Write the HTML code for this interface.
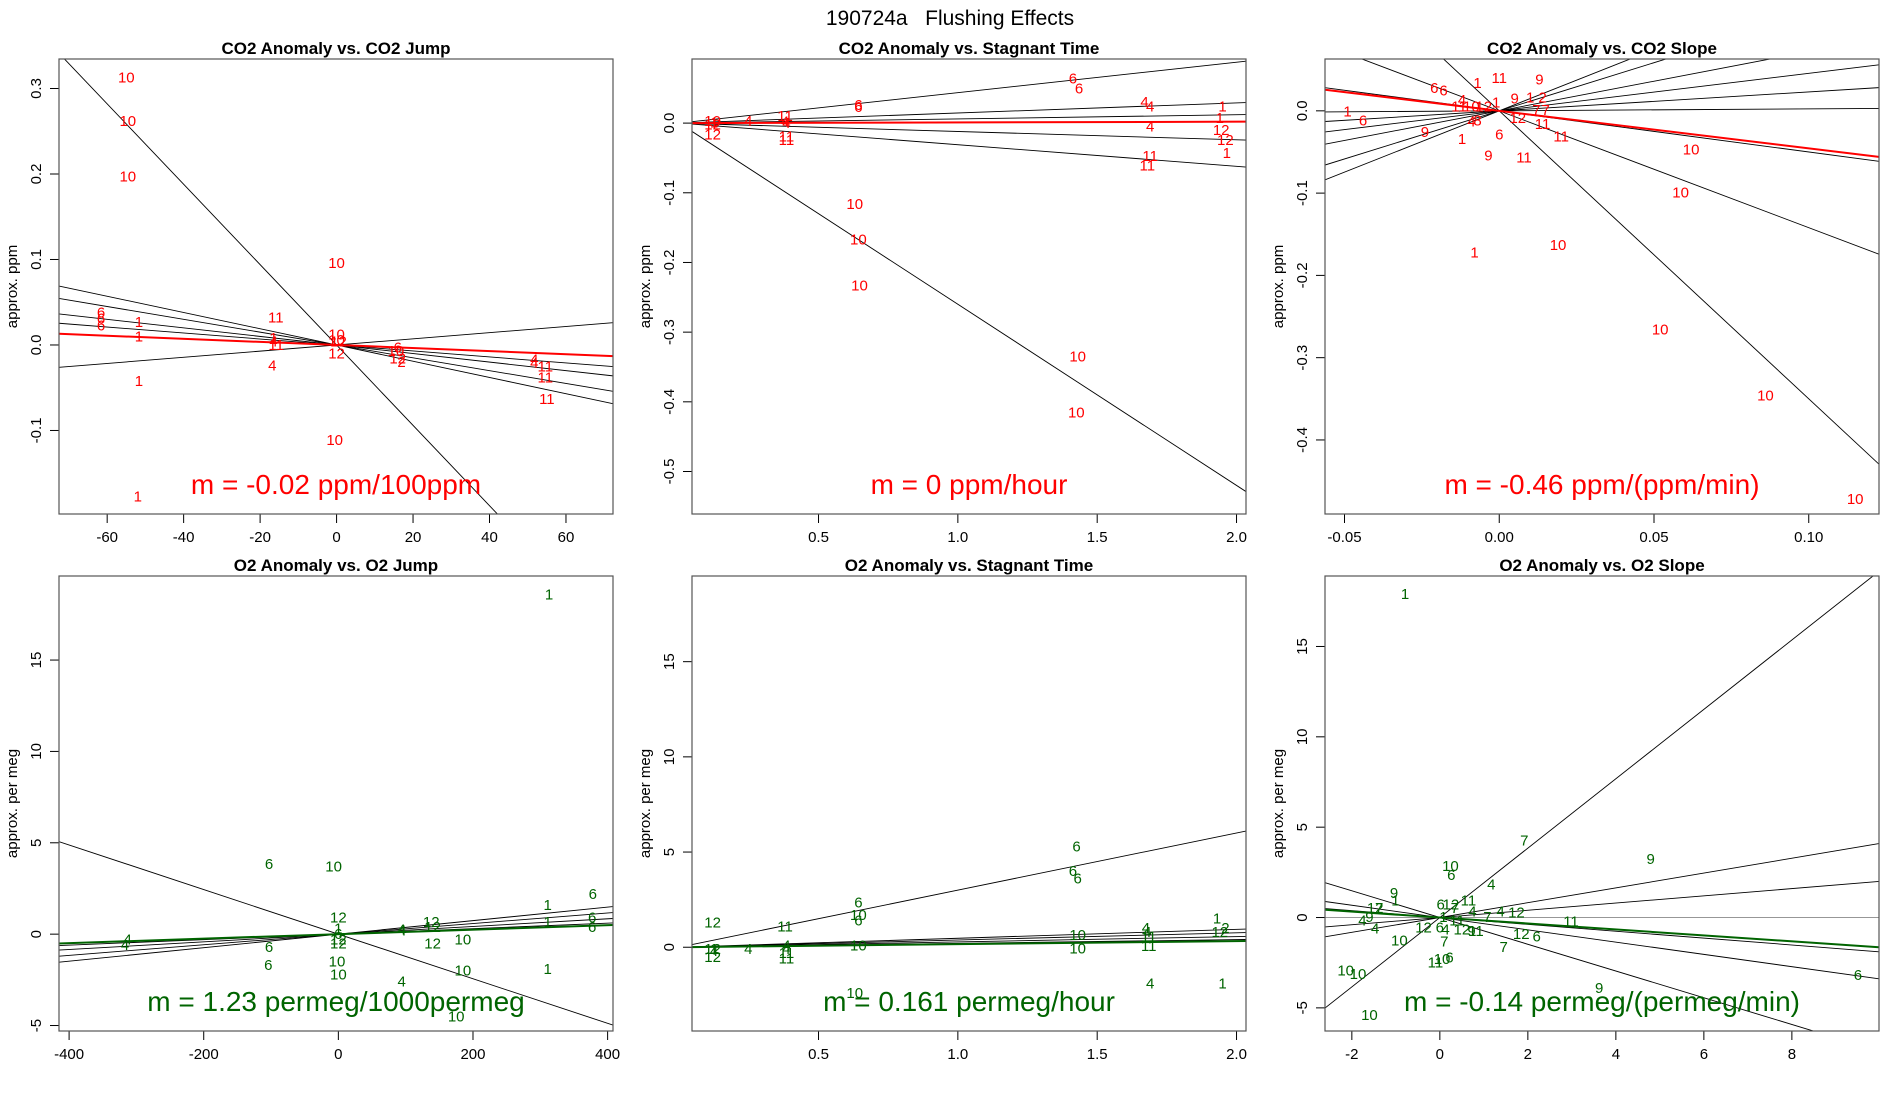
<!DOCTYPE html>
<html><head><meta charset="utf-8"><style>
html,body{margin:0;padding:0;background:#fff;}
svg{display:block;font-family:"Liberation Sans",sans-serif;}
</style></head><body>
<svg id="fig" width="1900" height="1100" viewBox="0 0 1900 1100" xmlns="http://www.w3.org/2000/svg">
<rect width="1900" height="1100" fill="#fff"/>
<text x="950" y="25" text-anchor="middle" font-size="21">190724a&#160;&#160;&#160;Flushing Effects</text>
</svg>
<script>
// ---- Panel 1: CO2 Anomaly vs CO2 Jump
const p1Labels=["10","10","10","10","6","6","6","1","1","11","1","4","11","4","1","10","10","12","12","10","1","6","10","12","2","4","4","11","11","11"];
const p1X=[-55,-54.6,-54.6,0,-61.6,-61.6,-61.6,-51.7,-51.7,-15.9,-16.5,-16.5,-15.8,-16.8,-51.7,0,0,0.5,0,-0.5,-52,16,15.5,16,17,51.7,51.7,54.6,54.6,55];
const p1Y=[0.313,0.262,0.197,0.096,0.038,0.031,0.023,0.027,0.010,0.032,0.008,0.004,0.0,-0.024,-0.042,0.012,0.006,0.004,-0.010,-0.111,-0.177,-0.003,-0.007,-0.016,-0.02,-0.017,-0.021,-0.025,-0.038,-0.063];
const p1Slopes=[-0.0047,-0.00095,-0.00075,-0.0005,-0.00035,0.00036];
const p1Fit=-0.00018;
// ---- Panel 2: CO2 Anomaly vs Stagnant Time
const p2Labels=["10","12","12","1","4","11","4","4","11","11","6","6","10","10","10","6","6","4","4","4","11","11","10","10","1","1","12","12","1"];
const p2X=[0.12,0.12,0.12,0.125,0.248,0.38,0.38,0.385,0.385,0.385,0.643,0.643,0.63,0.643,0.647,1.413,1.435,1.67,1.69,1.69,1.69,1.68,1.43,1.425,1.95,1.94,1.945,1.96,1.965];
const p2Y=[0.003,-0.002,-0.016,0.001,0.003,0.010,0.002,0.0,-0.019,-0.024,0.026,0.023,-0.116,-0.167,-0.233,0.064,0.050,0.030,0.024,-0.005,-0.047,-0.061,-0.335,-0.415,0.024,0.007,-0.010,-0.024,-0.043];
const p2Slopes=[0.0437,0.0145,0.006,-0.012,-0.031,-0.26];
const p2Fit=0.001;
// ---- Panel 3: CO2 Anomaly vs CO2 Slope
const p3Labels=["1","6","6","6","9","1","11","4","1","4","8","11","10","12","1","9","6","9","1","2","9","12","7","7","11","11","11","10","10","10","1","10","10","10"];
const p3X=[-0.049,-0.044,-0.021,-0.018,-0.024,-0.007,0.0,-0.012,-0.012,-0.009,-0.007,-0.013,-0.009,-0.005,-0.001,-0.0035,0.0,0.005,0.010,0.014,0.013,0.006,0.012,0.015,0.008,0.014,0.020,0.062,0.0586,0.019,-0.008,0.052,0.086,0.115];
const p3Y=[-0.001,-0.012,0.028,0.025,-0.026,0.034,0.040,0.013,-0.034,-0.013,-0.012,0.005,0.005,0.005,0.010,-0.054,-0.029,0.015,0.016,0.016,0.038,-0.009,0.001,0.001,-0.057,-0.016,-0.031,-0.047,-0.099,-0.163,-0.172,-0.266,-0.346,-0.472];
const p3Slopes=[1.49,1.17,0.72,0.456,0.23,0.024,-0.5,-1.42,-3.5];
const p3Fit=-0.456;
// ---- Panel 4: O2 Anomaly vs O2 Jump
const p4Labels=["1","6","10","12","1","12","12","6","10","10","6","6","4","4","4","4","12","12","12","10","10","4","10","1","1","1","6","6","6"];
const p4X=[313,-103,-7,0,0,0,0,0,-2,0,-103,-104,-313,-317,95,94,138,140,140,185,185,94,175,311,311,311,378,377,377];
const p4Y=[18.6,3.85,3.7,0.9,0.3,-0.3,-0.5,0.0,-1.5,-2.2,-0.7,-1.7,-0.3,-0.6,0.2,0.25,0.66,0.4,-0.5,-0.3,-2.0,-2.6,-4.5,1.6,0.66,-1.9,2.2,0.9,0.4];
const p4Slopes=[-0.0122,0.0037,0.0029,0.0021,0.0015];
const p4Fit=0.00123;
// ---- Panel 5: O2 Anomaly vs Stagnant Time
const p5Labels=["12","12","1","12","4","4","11","4","4","11","11","6","10","6","10","10","6","6","6","10","10","4","4","11","11","4","1","2","12","1"];
const p5X=[0.12,0.12,0.125,0.12,0.125,0.248,0.38,0.385,0.385,0.385,0.385,0.643,0.643,0.643,0.643,0.63,1.426,1.413,1.43,1.43,1.43,1.675,1.68,1.685,1.685,1.69,1.93,1.96,1.94,1.95];
const p5Y=[1.3,-0.1,-0.1,-0.5,-0.2,-0.1,1.1,0.1,-0.1,-0.3,-0.6,2.36,1.7,1.4,0.1,-2.4,5.3,4.0,3.6,0.64,-0.06,1.0,0.8,0.57,0.06,-1.9,1.5,1.0,0.8,-1.9];
const p5Slopes=[3.0,0.47,0.38,0.28,0.2];
const p5Fit=0.161;
// ---- Panel 6: O2 Anomaly vs O2 Slope
const p6Labels=["1","7","9","10","6","4","9","1","12","7","4","9","4","6","12","7","11","4","7","1","11","4","12","11","12","6","4","12","9","11","12","6","10","7","7","11","10","6","10","10","10","9","6"];
const p6X=[-0.79,1.92,4.79,0.24,0.26,1.17,-1.04,-1.01,-1.47,-1.38,-1.76,-1.6,-1.47,0.02,0.25,0.34,0.65,0.74,1.08,0.08,0.39,1.38,1.74,2.98,-0.37,0.0,0.13,0.5,0.72,0.82,1.85,2.2,-0.92,0.1,1.45,-0.1,0.05,0.22,-2.14,-1.86,-1.6,3.62,9.5];
const p6Y=[17.9,4.25,3.24,2.85,2.35,1.82,1.36,0.93,0.53,0.53,-0.16,0.04,-0.61,0.73,0.73,0.53,0.93,0.34,0.04,0.04,-0.16,0.34,0.28,-0.22,-0.55,-0.55,-0.65,-0.65,-0.75,-0.75,-0.91,-1.05,-1.28,-1.34,-1.64,-2.5,-2.3,-2.2,-2.92,-3.12,-5.4,-3.91,-3.18];
const p6Slopes=[1.92,0.41,0.2,0,-0.19,-0.34,-0.74];
const p6Fit=-0.165;

const NS="http://www.w3.org/2000/svg";
const svg=document.getElementById('fig');
function mk(tag,attrs,parent){const e=document.createElementNS(NS,tag);for(const k in attrs)e.setAttribute(k,attrs[k]);(parent||svg).appendChild(e);return e;}

const panels=[
 {id:1,col:0,row:0,title:"CO2 Anomaly vs. CO2 Jump",xlim:[-72.6,72.3],ylim:[-0.1977,0.3345],xt:[-60,-40,-20,0,20,40,60],yt:[-0.1,0.0,0.1,0.2,0.3],yfmt:v=>v.toFixed(1),xfmt:v=>String(v),yl:"approx. ppm",labels:p1Labels,xs:p1X,ys:p1Y,slopes:p1Slopes,fit:p1Fit,color:"#ff0000",m:"m = -0.02 ppm/100ppm"},
 {id:2,col:1,row:0,title:"CO2 Anomaly vs. Stagnant Time",xlim:[0.046,2.034],ylim:[-0.561,0.092],xt:[0.5,1.0,1.5,2.0],yt:[-0.5,-0.4,-0.3,-0.2,-0.1,0.0],yfmt:v=>v.toFixed(1),xfmt:v=>v.toFixed(1),yl:"approx. ppm",labels:p2Labels,xs:p2X,ys:p2Y,slopes:p2Slopes,fit:p2Fit,color:"#ff0000",m:"m = 0 ppm/hour"},
 {id:3,col:2,row:0,title:"CO2 Anomaly vs. CO2 Slope",xlim:[-0.0563,0.1227],ylim:[-0.49,0.063],xt:[-0.05,0,0.05,0.1],yt:[-0.4,-0.3,-0.2,-0.1,0.0],yfmt:v=>v.toFixed(1),xfmt:v=>v.toFixed(2),yl:"approx. ppm",labels:p3Labels,xs:p3X,ys:p3Y,slopes:p3Slopes,fit:p3Fit,color:"#ff0000",m:"m = -0.46 ppm/(ppm/min)"},
 {id:4,col:0,row:1,title:"O2 Anomaly vs. O2 Jump",xlim:[-415,408],ylim:[-5.3,19.6],xt:[-400,-200,0,200,400],yt:[-5,0,5,10,15],yfmt:v=>String(v),xfmt:v=>String(v),yl:"approx. per meg",labels:p4Labels,xs:p4X,ys:p4Y,slopes:p4Slopes,fit:p4Fit,color:"#006400",m:"m = 1.23 permeg/1000permeg"},
 {id:5,col:1,row:1,title:"O2 Anomaly vs. Stagnant Time",xlim:[0.046,2.034],ylim:[-4.4,19.5],xt:[0.5,1.0,1.5,2.0],yt:[0,5,10,15],yfmt:v=>String(v),xfmt:v=>v.toFixed(1),yl:"approx. per meg",labels:p5Labels,xs:p5X,ys:p5Y,slopes:p5Slopes,fit:p5Fit,color:"#006400",m:"m = 0.161 permeg/hour"},
 {id:6,col:2,row:1,title:"O2 Anomaly vs. O2 Slope",xlim:[-2.61,9.98],ylim:[-6.28,18.9],xt:[-2,0,2,4,6,8],yt:[-5,0,5,10,15],yfmt:v=>String(v),xfmt:v=>String(v),yl:"approx. per meg",labels:p6Labels,xs:p6X,ys:p6Y,slopes:p6Slopes,fit:p6Fit,color:"#006400",m:"m = -0.14 permeg/(permeg/min)"}
];
const colX=[59,692,1325], rowY=[59,576], W=554, H=455;

panels.forEach(p=>{
  const x0=colX[p.col], y0=rowY[p.row];
  const sx=v=>x0+(v-p.xlim[0])/(p.xlim[1]-p.xlim[0])*W;
  const sy=v=>y0+H-(v-p.ylim[0])/(p.ylim[1]-p.ylim[0])*H;
  const g=mk('g',{});
  
  
  const cp=mk('clipPath',{id:'clip'+p.id},g);
  mk('rect',{x:x0,y:y0,width:W,height:H},cp);
  const t=mk('text',{x:x0+W/2,y:y0-5,'text-anchor':'middle','font-size':17,'font-weight':'bold'},g);
  t.textContent=p.title;
  
  
  const yl=mk('text',{x:0,y:0,'text-anchor':'middle','font-size':15,transform:`translate(${x0-42},${y0+H/2}) rotate(-90)`},g);
  yl.textContent=p.yl;
  
  
  p.xt.forEach(v=>{
    const X=sx(v);
    mk('line',{x1:X,x2:X,y1:y0+H,y2:y0+H+9,stroke:'#000','stroke-width':1},g);
    const tl=mk('text',{x:X,y:y0+H+28,'text-anchor':'middle','font-size':15},g);
    tl.textContent=p.xfmt(v);
    
    
  });
  p.yt.forEach(v=>{
    const Y=sy(v);
    mk('line',{x1:x0-9,x2:x0,y1:Y,y2:Y,stroke:'#000','stroke-width':1},g);
    const tl=mk('text',{x:0,y:0,'text-anchor':'middle','font-size':15,transform:`translate(${x0-18},${Y}) rotate(-90)`},g);
    tl.textContent=p.yfmt(v);
    
    
  });
  const lg=mk('g',{'clip-path':`url(#clip${p.id})`},g);
  p.slopes.forEach(s=>{
    const ln=mk('line',{x1:sx(p.xlim[0]),y1:sy(s*p.xlim[0]),x2:sx(p.xlim[1]),y2:sy(s*p.xlim[1]),stroke:s===0?'#888':'#000','stroke-width':0.9},lg);
    
    
  });
  const fl=mk('line',{x1:sx(p.xlim[0]),y1:sy(p.fit*p.xlim[0]),x2:sx(p.xlim[1]),y2:sy(p.fit*p.xlim[1]),stroke:p.color,'stroke-width':2},lg);
  
  
  p.labels.forEach((lab,i)=>{
    const pt=mk('text',{x:sx(p.xs[i]),y:sy(p.ys[i])+5,'text-anchor':'middle','font-size':15,fill:p.color},lg);
    pt.textContent=lab;
    
    
  });
  const mt=mk('text',{x:x0+W/2,y:y0+H-20,'text-anchor':'middle','font-size':28,fill:p.color},g);
  mt.textContent=p.m;
  
  
  const box=mk('rect',{x:x0,y:y0,width:W,height:H,fill:'none',stroke:'#555','stroke-width':1.2},g);
  
  
});
</script>
</body></html>
